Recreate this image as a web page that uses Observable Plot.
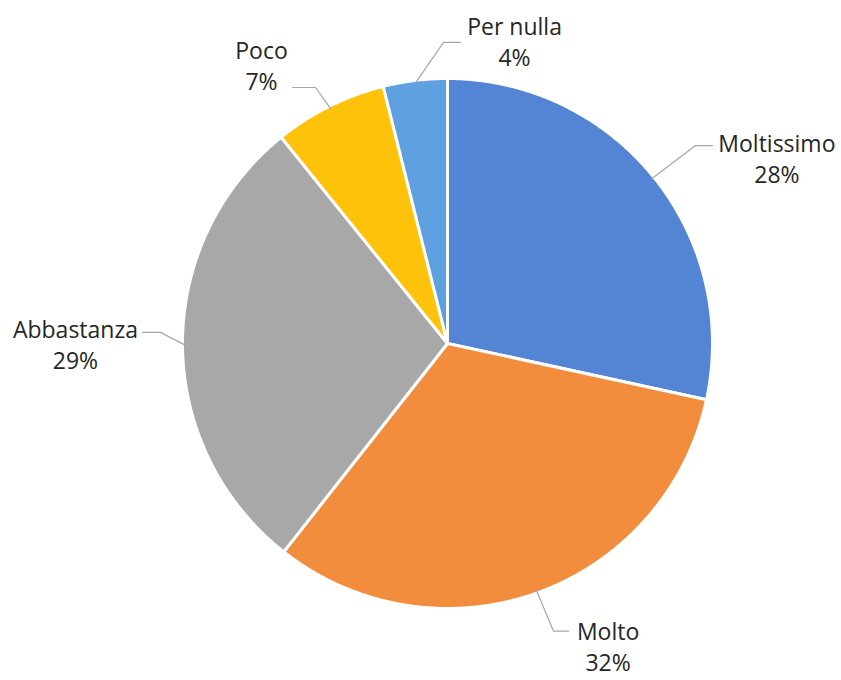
<!DOCTYPE html>
<html>
<head>
<meta charset="utf-8">
<script src="https://cdn.jsdelivr.net/npm/d3@7"></script>
<script src="https://cdn.jsdelivr.net/npm/@observablehq/plot@0.6"></script>
<style>
  html, body { margin: 0; padding: 0; background: #fff; }
  #chart { width: 841px; height: 680px; }
</style>
</head>
<body>
<div id="chart"></div>
<script>
// ---- data ----
const categories = ["Moltissimo", "Molto", "Abbastanza", "Poco", "Per nulla"];
const values = [28.4, 32.2, 28.6, 6.9, 3.9];
const percentLabels = ["28%", "32%", "29%", "7%", "4%"];
const colors = ["#5485d5", "#f28d3e", "#a8a8a8", "#ffc20a", "#5ea0e0"];

// ---- layout (in pie-radius units, origin at pie centre) ----
const labelCenters = [[1.243, 0.702], [0.606, -1.14], [-1.404, 0.0], [-0.702, 1.053], [0.253, 1.142]];
const leaderElbows = [[0.936, 0.747], [0.40, -1.085], [-1.083, 0.042], [-0.498, 0.966], [-0.015, 1.136]];
const leaderEnds = [[1.0, 0.747], [0.457, -1.085], [-1.151, 0.042], [-0.585, 0.966], [0.049, 1.136]];

const total = d3.sum(values);
let acc = 0;
const slices = categories.map((c, i) => {
  const a0 = acc / total * 2 * Math.PI;
  acc += values[i];
  const a1 = acc / total * 2 * Math.PI;
  return {category: c, a0, a1, mid: (a0 + a1) / 2, color: colors[i], i};
});

// polygon outline of each slice (angle measured clockwise from 12 o'clock)
const polyPts = [];
slices.forEach(s => {
  polyPts.push({k: s.category, x: 0, y: 0});
  const n = Math.max(2, Math.ceil((s.a1 - s.a0) / (Math.PI / 360)));
  for (let j = 0; j <= n; j++) {
    const a = s.a0 + (s.a1 - s.a0) * j / n;
    polyPts.push({k: s.category, x: Math.sin(a), y: Math.cos(a)});
  }
  polyPts.push({k: s.category, x: 0, y: 0});
});

const leaderPts = [];
slices.forEach(s => {
  leaderPts.push({k: s.category, x: Math.sin(s.mid) * 0.99, y: Math.cos(s.mid) * 0.99});
  leaderPts.push({k: s.category, x: leaderElbows[s.i][0], y: leaderElbows[s.i][1]});
  leaderPts.push({k: s.category, x: leaderEnds[s.i][0], y: leaderEnds[s.i][1]});
});

const labels = slices.map(s => ({
  x: labelCenters[s.i][0], y: labelCenters[s.i][1],
  text: s.category + "\n" + percentLabels[s.i]
}));

const W = 841, H = 680, R = 265, CX = 447, CY = 343;

const chart = Plot.plot({
  width: W, height: H,
  margin: 0,
  x: {domain: [-CX / R, (W - CX) / R], range: [0, W], axis: null},
  y: {domain: [-(H - CY) / R, CY / R], range: [H, 0], axis: null},
  color: {domain: categories, range: colors},
  style: {fontFamily: "'Open Sans', sans-serif", background: "#fff"},
  marks: [
    Plot.line(polyPts, {x: "x", y: "y", z: "k", fill: "k", stroke: "white", strokeWidth: 3, strokeLinejoin: "round", curve: "linear"}),
    Plot.line(leaderPts, {x: "x", y: "y", z: "k", stroke: "#a6a6a6", strokeWidth: 1.2}),
    Plot.text(labels, {x: "x", y: "y", text: "text", fontSize: 23, lineHeight: 1.35, fill: "#262626", textAnchor: "middle"})
  ]
});
document.getElementById("chart").appendChild(chart);
</script>
</body>
</html>
